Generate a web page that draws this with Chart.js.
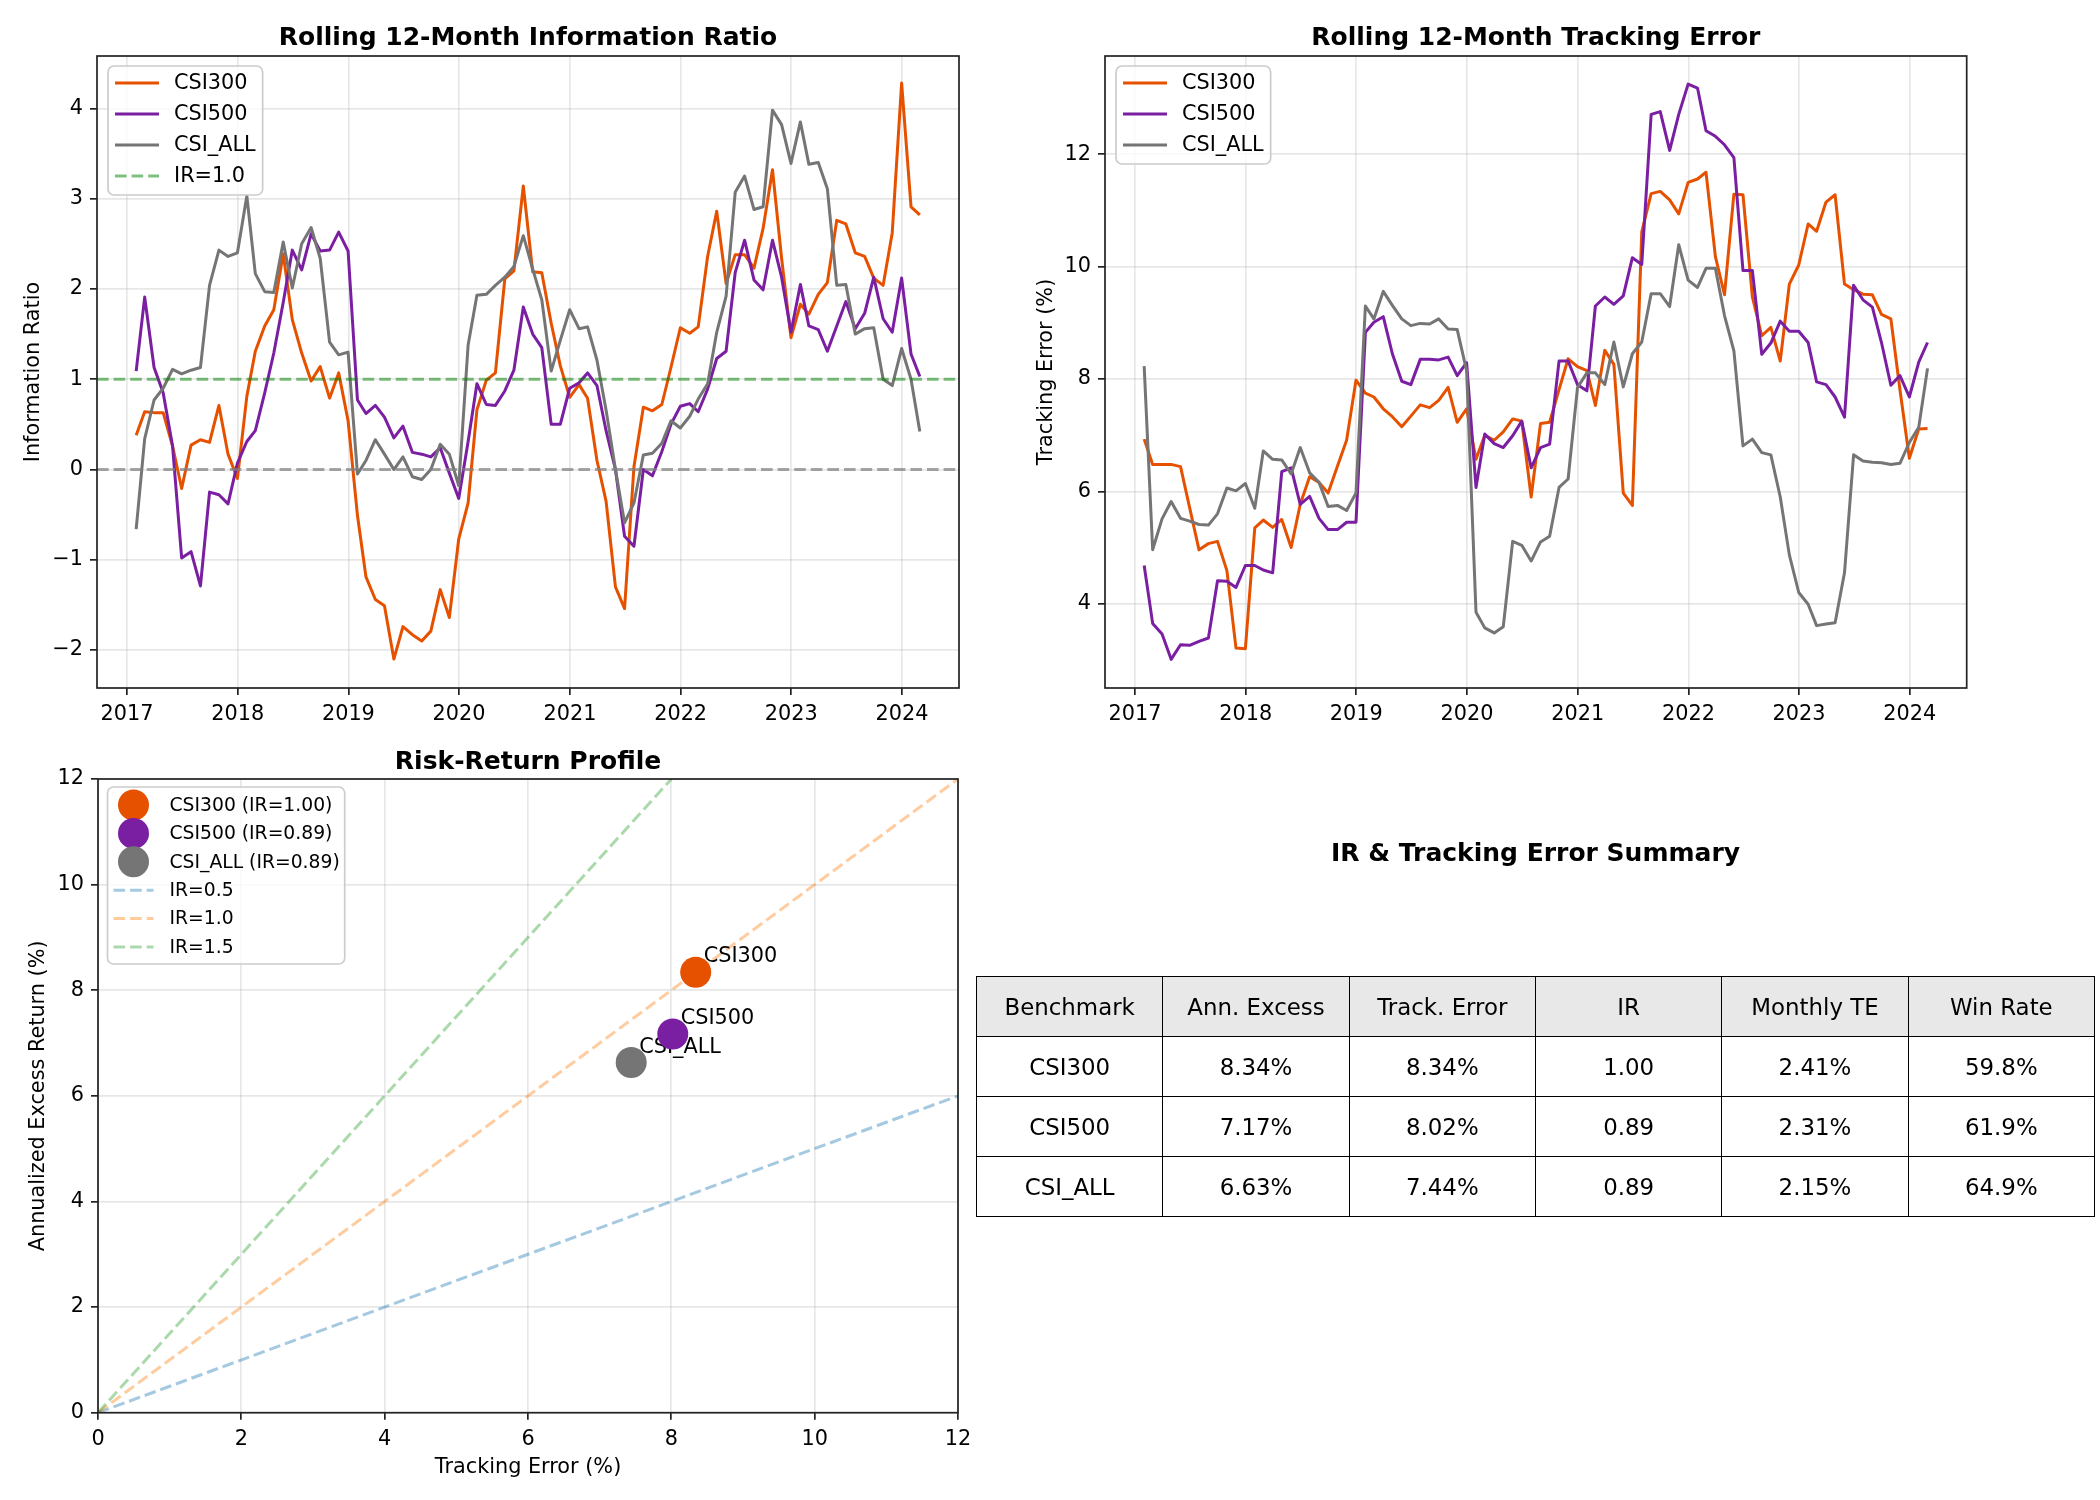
<!DOCTYPE html>
<html lang="en">
<head>
  <meta charset="UTF-8" />
  <title>IR &amp; Tracking Error</title>
  <style>
    body {
      margin: 0;
      background: #fff;
      font-family: 'DejaVu Sans', sans-serif;
    }

    .page {
      position: relative;
      width: 2100px;
      height: 1500px;
      overflow: hidden;
      background: #fff;
    }

    canvas { position: absolute; }
    #ir-chart { left: 0; top: 0; }
    #te-chart { left: 1000px; top: 0; }
    #rr-chart { left: 0; top: 720px; }

    .table-title {
      position: absolute;
      left: 976px;
      width: 1119px;
      top: 838px;
      line-height: 30px;
      text-align: center;
      font-weight: bold;
      font-size: 25px;
      color: #000;
    }

    .summary {
      position: absolute;
      left: 976px;
      top: 976px;
      width: 1119px;
      border-collapse: collapse;
      table-layout: fixed;
      font-size: 22.9px;
      color: #000;
    }

    .summary tr { height: 60px; }

    .summary th, .summary td {
      border: 1.7px solid #000;
      text-align: center;
      font-weight: normal;
      padding: 0;
    }

    .summary th { background: #e8e8e8; }
  </style>
</head>
<body>
  <div class="page">
    <canvas id="ir-chart" width="1000" height="720"></canvas>
    <canvas id="te-chart" width="1100" height="720"></canvas>
    <canvas id="rr-chart" width="1000" height="780"></canvas>

    <div class="table-title">IR &amp; Tracking Error Summary</div>
    <table class="summary" id="summary"></table>
  </div>

  <script src="https://cdn.jsdelivr.net/npm/chart.js"></script>
  <script>
    // ---- data ----
    const BENCHMARKS = ['CSI300', 'CSI500', 'CSI_ALL'];
    const COLORS = ['#E65100', '#7B1FA2', '#757575'];

    const YEAR_TICKS = [2017, 2018, 2019, 2020, 2021, 2022, 2023, 2024];
    const IR_TICKS = [-2, -1, 0, 1, 2, 3, 4];
    const TE_TICKS = [4, 6, 8, 10, 12];
    const RR_TICKS = [0, 2, 4, 6, 8, 10, 12];

    // rolling 12-month IR, month ends Jan 2017 .. Feb 2024
    const IR_CSI300 = [0.38, 0.64, 0.63, 0.63, 0.26, -0.21, 0.27, 0.33, 0.30, 0.71, 0.17, -0.10,
      0.81, 1.31, 1.59, 1.77, 2.39, 1.66, 1.29, 0.98, 1.14, 0.79, 1.07, 0.54,
      -0.51, -1.19, -1.44, -1.51, -2.10, -1.74, -1.83, -1.90, -1.79, -1.33, -1.64, -0.77,
      -0.37, 0.66, 0.99, 1.07, 2.11, 2.20, 3.14, 2.19, 2.18, 1.62, 1.15, 0.80,
      0.94, 0.79, 0.10, -0.35, -1.30, -1.54, 0.03, 0.69, 0.65, 0.72, 1.13, 1.57,
      1.51, 1.58, 2.36, 2.86, 2.06, 2.38, 2.38, 2.23, 2.67, 3.32, 2.34, 1.46,
      1.83, 1.72, 1.94, 2.07, 2.76, 2.72, 2.40, 2.36, 2.12, 2.04, 2.62, 4.28,
      2.91, 2.82];
    const IR_CSI500 = [1.09, 1.91, 1.13, 0.85, 0.26, -0.98, -0.91, -1.29, -0.25, -0.28, -0.38, 0.07,
      0.31, 0.43, 0.85, 1.29, 1.85, 2.43, 2.21, 2.61, 2.42, 2.43, 2.63, 2.42,
      0.77, 0.62, 0.71, 0.58, 0.35, 0.48, 0.19, 0.17, 0.14, 0.24, -0.04, -0.32,
      0.31, 0.95, 0.72, 0.71, 0.87, 1.10, 1.80, 1.50, 1.35, 0.50, 0.50, 0.90,
      0.96, 1.07, 0.93, 0.43, 0.00, -0.74, -0.85, 0.00, -0.07, 0.20, 0.50, 0.70,
      0.73, 0.64, 0.89, 1.23, 1.31, 2.18, 2.54, 2.10, 1.99, 2.54, 2.13, 1.52,
      2.05, 1.59, 1.55, 1.31, 1.59, 1.86, 1.56, 1.73, 2.13, 1.67, 1.52, 2.12,
      1.28, 1.03];
    const IR_CSI_ALL = [-0.66, 0.34, 0.77, 0.90, 1.11, 1.06, 1.10, 1.13, 2.04, 2.43, 2.36, 2.40,
      3.03, 2.17, 1.97, 1.96, 2.52, 2.01, 2.50, 2.68, 2.34, 1.41, 1.27, 1.30,
      -0.05, 0.10, 0.33, 0.17, 0.00, 0.14, -0.08, -0.11, 0.00, 0.28, 0.17, -0.18,
      1.38, 1.93, 1.94, 2.04, 2.13, 2.25, 2.59, 2.22, 1.88, 1.09, 1.43, 1.77,
      1.56, 1.58, 1.21, 0.66, 0.00, -0.59, -0.37, 0.16, 0.18, 0.29, 0.54, 0.46,
      0.59, 0.78, 0.95, 1.52, 1.92, 3.07, 3.25, 2.88, 2.91, 3.98, 3.82, 3.39,
      3.85, 3.38, 3.40, 3.11, 2.04, 2.05, 1.50, 1.56, 1.57, 1.00, 0.93, 1.34,
      1.00, 0.42];

    // rolling 12-month tracking error (%)
    const TE_CSI300 = [6.93, 6.48, 6.48, 6.48, 6.44, 5.71, 4.96, 5.07, 5.11, 4.59, 3.21, 3.20,
      5.35, 5.49, 5.36, 5.50, 5.00, 5.77, 6.26, 6.16, 5.97, 6.45, 6.91, 7.98,
      7.75, 7.68, 7.47, 7.33, 7.15, 7.34, 7.54, 7.49, 7.62, 7.85, 7.23, 7.47,
      6.57, 7.00, 6.91, 7.06, 7.29, 7.25, 5.90, 7.21, 7.23, 7.81, 8.36, 8.22,
      8.15, 7.53, 8.51, 8.26, 5.97, 5.75, 10.62, 11.30, 11.34, 11.19, 10.94, 11.50,
      11.56, 11.68, 10.18, 9.50, 11.29, 11.28, 9.46, 8.77, 8.92, 8.32, 9.69, 10.03,
      10.76, 10.63, 11.15, 11.28, 9.69, 9.59, 9.51, 9.50, 9.15, 9.07, 7.81, 6.59,
      7.11, 7.12];
    const TE_CSI500 = [4.68, 3.65, 3.46, 3.01, 3.27, 3.26, 3.33, 3.39, 4.41, 4.40, 4.29, 4.68,
      4.68, 4.60, 4.55, 6.35, 6.42, 5.77, 5.91, 5.52, 5.32, 5.32, 5.45, 5.45,
      8.83, 9.01, 9.11, 8.45, 7.96, 7.90, 8.35, 8.35, 8.34, 8.39, 8.06, 8.29,
      6.07, 7.02, 6.85, 6.78, 6.99, 7.25, 6.42, 6.78, 6.84, 8.32, 8.32, 7.90,
      7.79, 9.30, 9.46, 9.33, 9.48, 10.16, 10.04, 12.71, 12.76, 12.07, 12.71, 13.25,
      13.18, 12.42, 12.32, 12.17, 11.94, 9.93, 9.93, 8.44, 8.64, 9.03, 8.85, 8.85,
      8.65, 7.95, 7.90, 7.68, 7.32, 9.67, 9.41, 9.28, 8.65, 7.89, 8.06, 7.68,
      8.30, 8.65];
    const TE_CSI_ALL = [8.23, 4.96, 5.51, 5.82, 5.52, 5.47, 5.41, 5.40, 5.60, 6.06, 6.01, 6.14,
      5.70, 6.72, 6.57, 6.56, 6.31, 6.78, 6.33, 6.16, 5.73, 5.75, 5.66, 5.97,
      9.30, 9.07, 9.56, 9.31, 9.07, 8.95, 8.99, 8.98, 9.07, 8.89, 8.88, 8.15,
      3.85, 3.57, 3.48, 3.59, 5.11, 5.04, 4.76, 5.10, 5.20, 6.07, 6.22, 7.85,
      8.11, 8.11, 7.90, 8.66, 7.86, 8.45, 8.66, 9.52, 9.52, 9.29, 10.39, 9.76,
      9.63, 9.97, 9.97, 9.13, 8.50, 6.81, 6.93, 6.69, 6.65, 5.90, 4.87, 4.20,
      3.99, 3.61, 3.64, 3.66, 4.55, 6.65, 6.54, 6.52, 6.51, 6.48, 6.50, 6.87,
      7.14, 8.19];

    // full-period summary
    const ANN_EXCESS = [8.34, 7.17, 6.63];
    const TRACK_ERR = [8.34, 8.02, 7.44];
    const IR_VALUES = [1.00, 0.89, 0.89];
    const MONTHLY_TE = [2.41, 2.31, 2.15];
    const WIN_RATE = [59.8, 61.9, 64.9];
    const IR_LEVELS = [0.5, 1.0, 1.5];
    const IR_LEVEL_COLORS = ['rgba(31,119,180,0.4)', 'rgba(255,127,14,0.4)', 'rgba(44,160,44,0.4)'];
    const TABLE_HEAD = ['Benchmark', 'Ann. Excess', 'Track. Error', 'IR', 'Monthly TE', 'Win Rate'];

    // ---- shared look ----
    const FONT = "'DejaVu Sans', sans-serif";
    const SPINE = '#222';
    const GRID = 'rgba(176,176,176,0.3)';
    const DAY = 864e5;
    Chart.defaults.font.family = FONT;
    Chart.defaults.font.size = 20.8;
    Chart.defaults.color = '#000';

    // month-end dates as day numbers, first window ends Jan 2017
    const monthEnds = IR_CSI300.map((_, i) => Date.UTC(2017, i + 1, 0) / DAY);
    const span = monthEnds[monthEnds.length - 1] - monthEnds[0];
    const X_MIN = monthEnds[0] - span * 0.05;
    const X_MAX = monthEnds[monthEnds.length - 1] + span * 0.05;

    const series = vals => vals.map((v, i) => ({ x: monthEnds[i], y: v }));
    const minus = v => (v < 0 ? '\u2212' + Math.abs(v) : String(v));

    // matplotlib-like full box around the plot area
    const spines = {
      id: 'spines',
      afterDatasetsDraw(chart) {
        const { ctx, chartArea: a } = chart;
        ctx.save();
        ctx.strokeStyle = SPINE;
        ctx.lineWidth = 1.7;
        ctx.strokeRect(a.left, a.top, a.right - a.left, a.bottom - a.top);
        ctx.restore();
      }
    };

    // framed legend drawn inside the upper-left corner
    const boxLegend = {
      id: 'boxLegend',
      afterDraw(chart, args, o) {
        if (!o.fontSize) return;
        const { ctx, chartArea: a } = chart;
        const items = chart.data.datasets.filter(d => d.label && !d.noLegend);
        ctx.save();
        ctx.font = o.fontSize + 'px ' + FONT;
        const textW = Math.max(...items.map(d => ctx.measureText(d.label).width));
        const x0 = a.left + o.offsetX;
        const y0 = a.top + o.offsetY;
        const w = o.textX + textW + o.padRight;
        const h = o.firstRow + (items.length - 1) * o.rowH + o.padBottom;

        ctx.beginPath();
        ctx.roundRect(x0, y0, w, h, 6);
        ctx.fillStyle = 'rgba(255,255,255,0.8)';
        ctx.fill();
        ctx.strokeStyle = '#cccccc';
        ctx.lineWidth = 1.7;
        ctx.stroke();

        items.forEach((d, i) => {
          const cy = y0 + o.firstRow + i * o.rowH;
          if (d.type === 'scatter') {
            ctx.beginPath();
            ctx.arc(x0 + (o.sampleX0 + o.sampleX1) / 2, cy, d.pointRadius, 0, Math.PI * 2);
            ctx.fillStyle = d.backgroundColor;
            ctx.fill();
          } else {
            ctx.beginPath();
            ctx.setLineDash(d.borderDash || []);
            ctx.strokeStyle = d.borderColor;
            ctx.lineWidth = d.borderWidth;
            ctx.moveTo(x0 + o.sampleX0, cy);
            ctx.lineTo(x0 + o.sampleX1, cy);
            ctx.stroke();
            ctx.setLineDash([]);
          }
          ctx.fillStyle = '#000';
          ctx.textBaseline = 'middle';
          ctx.fillText(d.label, x0 + o.textX, cy + 1);
        });
        ctx.restore();
      }
    };

    // benchmark names next to the scatter markers, under the markers
    const pointNames = {
      id: 'pointNames',
      beforeDatasetsDraw(chart) { chart.$namesDone = false; },
      beforeDatasetDraw(chart, args, o) {
        if (!o.names || chart.$namesDone || args.meta.type !== 'scatter') return;
        chart.$namesDone = true;
        const { ctx } = chart;
        ctx.save();
        ctx.font = '20.8px ' + FONT;
        ctx.fillStyle = '#000';
        ctx.textBaseline = 'alphabetic';
        chart.data.datasets.forEach((d, i) => {
          if (d.type !== 'scatter') return;
          const pt = chart.getDatasetMeta(i).data[0];
          ctx.fillText(o.names[d.pointIndex], pt.x + 8, pt.y - 10);
        });
        ctx.restore();
      }
    };

    Chart.register(spines, boxLegend, pointNames);

    function axisStyle(extra) {
      return Object.assign({
        type: 'linear',
        grid: { color: GRID, lineWidth: 1.7, tickColor: SPINE, tickLength: 7, tickWidth: 1.7 },
        border: { display: false },
        ticks: { padding: 7, font: { size: 20.8 } }
      }, extra);
    }

    function titleStyle(text, top, bottom) {
      return {
        display: true, text, fullSize: false, color: '#000',
        font: { size: 25, weight: 'bold' },
        padding: { top, bottom }
      };
    }

    function lineSet(label, values, color, order) {
      return {
        label, data: series(values), borderColor: color, borderWidth: 3,
        pointRadius: 0, tension: 0, borderJoinStyle: 'round', order
      };
    }

    const topLegend = {
      fontSize: 20.8, offsetX: 11, offsetY: 10, firstRow: 17, rowH: 31,
      sampleX0: 7, sampleX1: 51, textX: 66, padRight: 7, padBottom: 19
    };

    const base = {
      responsive: false,
      animation: false,
      devicePixelRatio: 1,
      events: []
    };

    // ---- chart 1: rolling information ratio ----
    new Chart(document.getElementById('ir-chart'), {
      type: 'line',
      data: {
        datasets: [
          lineSet('CSI300', IR_CSI300, COLORS[0], 5),
          lineSet('CSI500', IR_CSI500, COLORS[1], 4),
          lineSet('CSI_ALL', IR_CSI_ALL, COLORS[2], 3),
          {
            label: 'IR=1.0', data: [{ x: X_MIN, y: 1 }, { x: X_MAX, y: 1 }],
            borderColor: 'rgba(0,128,0,0.5)', borderWidth: 3, borderDash: [11.6, 5],
            pointRadius: 0, order: 2
          },
          {
            label: 'zero', noLegend: true, data: [{ x: X_MIN, y: 0 }, { x: X_MAX, y: 0 }],
            borderColor: 'rgba(128,128,128,0.7)', borderWidth: 3, borderDash: [11.6, 5],
            pointRadius: 0, order: 1
          }
        ]
      },
      options: Object.assign({}, base, {
        layout: { padding: { left: 0, right: 41, top: 0, bottom: 0 } },
        scales: {
          x: axisStyle({
            min: X_MIN, max: X_MAX,
            afterBuildTicks: s => { s.ticks = YEAR_TICKS.map(y => ({ value: Date.UTC(y, 0, 1) / DAY })); },
            afterFit: s => { s.height = 32; },
            ticks: { padding: 7, callback: v => new Date(v * DAY).getUTCFullYear() }
          }),
          y: axisStyle({
            min: -2.42, max: 4.58,
            afterBuildTicks: s => { s.ticks = IR_TICKS.map(v => ({ value: v })); },
            afterFit: s => { s.width = 97; },
            ticks: { padding: 7, callback: minus },
            title: { display: true, text: 'Information Ratio', font: { size: 20.8 }, padding: { top: 21 } }
          })
        },
        plugins: {
          legend: { display: false },
          tooltip: { enabled: false },
          title: titleStyle('Rolling 12-Month Information Ratio', 23, 3),
          boxLegend: topLegend
        }
      })
    });

    // ---- chart 2: rolling tracking error ----
    new Chart(document.getElementById('te-chart'), {
      type: 'line',
      data: {
        datasets: [
          lineSet('CSI300', TE_CSI300, COLORS[0], 3),
          lineSet('CSI500', TE_CSI500, COLORS[1], 2),
          lineSet('CSI_ALL', TE_CSI_ALL, COLORS[2], 1)
        ]
      },
      options: Object.assign({}, base, {
        layout: { padding: { left: 0, right: 133.3, top: 0, bottom: 0 } },
        scales: {
          x: axisStyle({
            min: X_MIN, max: X_MAX,
            afterBuildTicks: s => { s.ticks = YEAR_TICKS.map(y => ({ value: Date.UTC(y, 0, 1) / DAY })); },
            afterFit: s => { s.height = 32; },
            ticks: { padding: 7, callback: v => new Date(v * DAY).getUTCFullYear() }
          }),
          y: axisStyle({
            min: 2.5, max: 13.75,
            afterBuildTicks: s => { s.ticks = TE_TICKS.map(v => ({ value: v })); },
            afterFit: s => { s.width = 105; },
            title: { display: true, text: 'Tracking Error (%)', font: { size: 20.8 }, padding: { top: 34 } }
          })
        },
        plugins: {
          legend: { display: false },
          tooltip: { enabled: false },
          title: titleStyle('Rolling 12-Month Tracking Error', 23, 3),
          boxLegend: topLegend
        }
      })
    });

    // ---- chart 3: risk-return profile ----
    const rrSets = BENCHMARKS.map((name, i) => ({
      type: 'scatter',
      label: `${name} (IR=${IR_VALUES[i].toFixed(2)})`,
      data: [{ x: TRACK_ERR[i], y: ANN_EXCESS[i] }],
      backgroundColor: COLORS[i], borderWidth: 0,
      pointRadius: 15.5, pointIndex: i, order: 3 - i
    }));
    IR_LEVELS.forEach((ir, i) => {
      rrSets.push({
        type: 'line',
        label: `IR=${ir.toFixed(1)}`,
        data: [{ x: 0, y: 0 }, { x: RR_TICKS[RR_TICKS.length - 1], y: RR_TICKS[RR_TICKS.length - 1] * ir }],
        borderColor: IR_LEVEL_COLORS[i], borderWidth: 3, borderDash: [11.6, 5],
        pointRadius: 0, order: 6 - i
      });
    });

    new Chart(document.getElementById('rr-chart'), {
      type: 'scatter',
      data: { datasets: rrSets },
      options: Object.assign({}, base, {
        layout: { padding: { left: 0, right: 42, top: 0, bottom: 0 } },
        scales: {
          x: axisStyle({
            min: 0, max: 12,
            afterBuildTicks: s => { s.ticks = RR_TICKS.map(v => ({ value: v })); },
            afterFit: s => { s.height = 87.3; },
            title: { display: true, text: 'Tracking Error (%)', font: { size: 20.8 }, padding: { bottom: 19.5 } }
          }),
          y: axisStyle({
            min: 0, max: 12,
            afterBuildTicks: s => { s.ticks = RR_TICKS.map(v => ({ value: v })); },
            afterFit: s => { s.width = 98; },
            title: { display: true, text: 'Annualized Excess Return (%)', font: { size: 20.8 }, padding: { top: 26.5 } }
          })
        },
        plugins: {
          legend: { display: false },
          tooltip: { enabled: false },
          title: titleStyle('Risk-Return Profile', 27, 2),
          boxLegend: {
            fontSize: 18.75, offsetX: 9.5, offsetY: 8, firstRow: 18, rowH: 28.4,
            sampleX0: 6, sampleX1: 46, textX: 62, padRight: 5, padBottom: 17
          },
          pointNames: { names: BENCHMARKS }
        }
      })
    });

    // ---- summary table ----
    const table = document.getElementById('summary');
    let html = '<tr>' + TABLE_HEAD.map(h => `<th>${h}</th>`).join('') + '</tr>';
    BENCHMARKS.forEach((name, i) => {
      html += '<tr>' +
        `<td>${name}</td>` +
        `<td>${ANN_EXCESS[i].toFixed(2)}%</td>` +
        `<td>${TRACK_ERR[i].toFixed(2)}%</td>` +
        `<td>${IR_VALUES[i].toFixed(2)}</td>` +
        `<td>${MONTHLY_TE[i].toFixed(2)}%</td>` +
        `<td>${WIN_RATE[i].toFixed(1)}%</td>` +
        '</tr>';
    });
    table.innerHTML = html;
  </script>
</body>
</html>
